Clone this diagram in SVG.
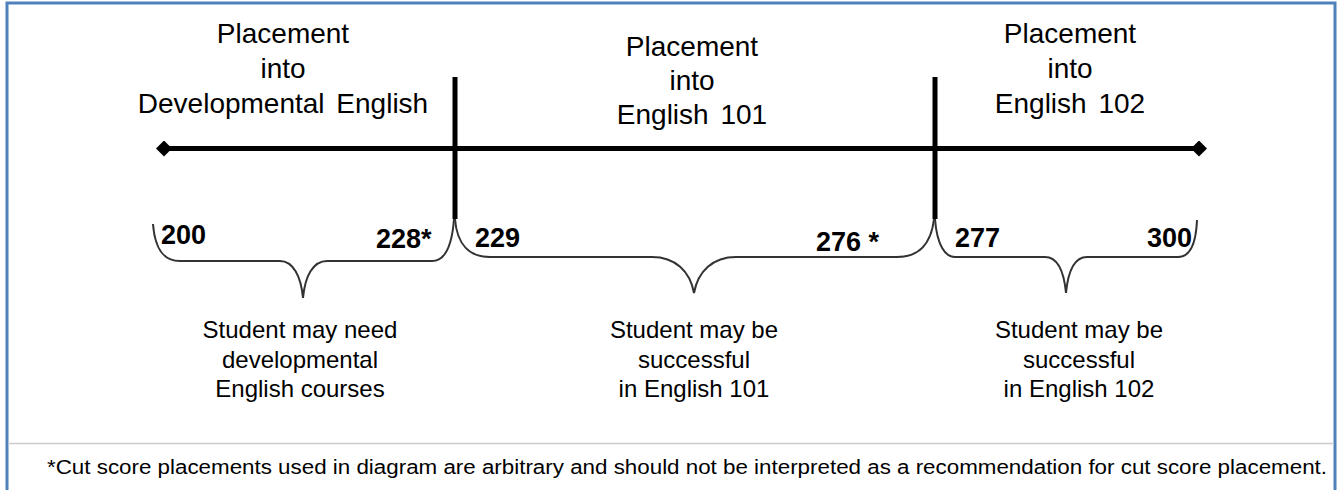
<svg xmlns="http://www.w3.org/2000/svg" width="1341" height="490" viewBox="0 0 1341 490">
<style>
.t{font-family:"Liberation Sans",Arial,sans-serif;fill:#000;text-anchor:middle}
.h{font-size:28px}
.n{font-size:27px;font-weight:bold;text-anchor:start}
.b{font-size:24px}
.f{font-size:20px;text-anchor:start}
.axis{stroke:#000;stroke-width:5;fill:none}
.bar{stroke:#000;stroke-width:5;fill:none}
.brace{stroke:#333;stroke-width:2;fill:none}
</style>
<defs>
<marker id="dia" viewBox="-8 -8 16 16" markerWidth="16" markerHeight="16" markerUnits="userSpaceOnUse" refX="0" refY="0" orient="auto">
<path d="M-8 0 L0 -8 L8 0 L0 8 Z" fill="#000"/>
</marker>
</defs>
<rect x="0" y="0" width="1341" height="490" fill="#fff"/>
<path d="M7 490 V3 H1335 V490" fill="none" stroke="#4f81bd" stroke-width="3"/>
<line x1="8" y1="443.5" x2="1334" y2="443.5" stroke="#cccccc" stroke-width="1.5"/>

<g id="connectors">
<line class="axis" x1="164" y1="148.5" x2="1199" y2="148.5" marker-start="url(#dia)" marker-end="url(#dia)"/>
<line class="bar" x1="455" y1="77" x2="455" y2="219"/>
<line class="bar" x1="935" y1="77" x2="935" y2="219"/>
</g>

<g id="dev-english">
<text class="t h" x="283" y="43">Placement</text>
<text class="t h" x="283" y="78">into</text>
<text class="t h" x="283" y="113" word-spacing="4">Developmental English</text>
</g>
<g id="english-101">
<text class="t h" x="692" y="56">Placement</text>
<text class="t h" x="692" y="90">into</text>
<text class="t h" x="692" y="124" word-spacing="4">English 101</text>
</g>
<g id="english-102">
<text class="t h" x="1070" y="43">Placement</text>
<text class="t h" x="1070" y="78">into</text>
<text class="t h" x="1070" y="113" word-spacing="4">English 102</text>
</g>

<g id="range-dev">
<path class="brace" d="M153 224 C155 250 164 261 180 261 L280 261 C293 261 301 276 303 298 C305 276 313 261 327 261 L432 261 C445 261 452 246 454 219"/>
<text class="t n" x="161" y="244">200</text>
<text class="t n" x="376" y="248">228*</text>
<text class="t b" x="300" y="338">Student may need</text>
<text class="t b" x="300" y="368">developmental</text>
<text class="t b" x="300" y="397">English courses</text>
</g>
<g id="range-101">
<path class="brace" d="M455 219 C457 245 470 257 490 257 L652 257 C675 257 690 271 694 293 C698 271 713 257 736 257 L897 257 C918 257 931 245 934 219"/>
<text class="t n" x="475" y="247">229</text>
<text class="t n" x="816" y="251" xml:space="preserve">276 *</text>
<text class="t b" x="694" y="338">Student may be</text>
<text class="t b" x="694" y="368">successful</text>
<text class="t b" x="694" y="397">in English 101</text>
</g>
<g id="range-102">
<path class="brace" d="M935 219 C937 245 945 257 955 257 L1045 257 C1058 257 1064 272 1066 293 C1068 272 1074 257 1087 257 L1178 257 C1190 257 1196 245 1197 220"/>
<text class="t n" x="955" y="247">277</text>
<text class="t n" x="1147" y="247">300</text>
<text class="t b" x="1079" y="338">Student may be</text>
<text class="t b" x="1079" y="368">successful</text>
<text class="t b" x="1079" y="397">in English 102</text>
</g>

<text class="t f" x="47" y="474" textLength="1280" lengthAdjust="spacingAndGlyphs">*Cut score placements used in diagram are arbitrary and should not be interpreted as a recommendation for cut score placement.</text>
</svg>
